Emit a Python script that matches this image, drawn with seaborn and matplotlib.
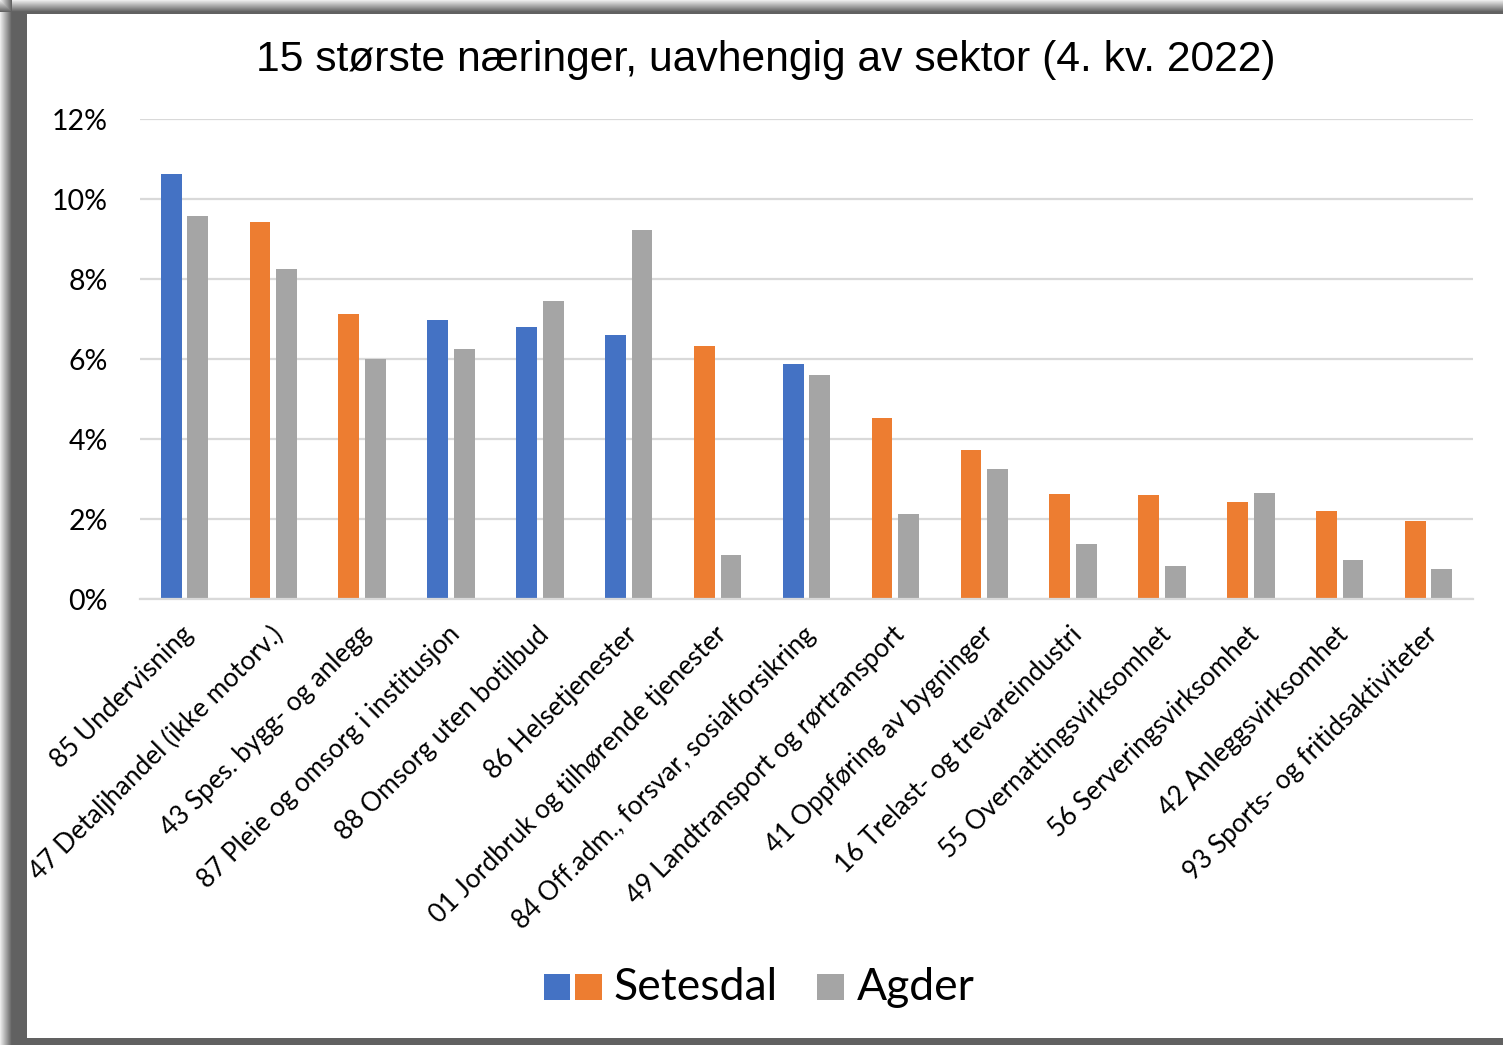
import numpy as np
import pandas as pd
import matplotlib
matplotlib.use("Agg")
import matplotlib.pyplot as plt
import matplotlib.transforms as mtransforms
import seaborn as sns
from matplotlib.patches import Rectangle
from matplotlib.ticker import PercentFormatter

# Data

naeringer = [
    "85 Undervisning",
    "47 Detaljhandel (ikke motorv.)",
    "43 Spes. bygg- og anlegg",
    "87 Pleie og omsorg i institusjon",
    "88 Omsorg uten botilbud",
    "86 Helsetjenester",
    "01 Jordbruk og tilhørende tjenester",
    "84 Off.adm., forsvar, sosialforsikring",
    "49 Landtransport og rørtransport",
    "41 Oppføring av bygninger",
    "16 Trelast- og trevareindustri",
    "55 Overnattingsvirksomhet",
    "56 Serveringsvirksomhet",
    "42 Anleggsvirksomhet",
    "93 Sports- og fritidsaktiviteter",
]

setesdal = [10.63, 9.43, 7.13, 6.98, 6.80, 6.60, 6.33, 5.88,
            4.53, 3.73, 2.63, 2.60, 2.43, 2.20, 1.95]

agder = [9.58, 8.25, 6.00, 6.25, 7.45, 9.23, 1.10, 5.60,
         2.13, 3.25, 1.38, 0.83, 2.65, 0.98, 0.75]

# sector of the Setesdal bar: offentlig (blue) / privat (orange)
sektor = ["off", "priv", "priv", "off", "off", "off", "priv", "off",
          "priv", "priv", "priv", "priv", "priv", "priv", "priv"]

BLUE = "#4472C4"
ORANGE = "#ED7D31"
GRAY = "#A5A5A5"
GRID = "#D9D9D9"

df = pd.DataFrame({
    "naering": naeringer * 2,
    "andel": setesdal + agder,
    "region": ["Setesdal"] * len(naeringer) + ["Agder"] * len(naeringer),
})

# Figure

W, H = 1503, 1045
fig = plt.figure(figsize=(W / 100, H / 100), dpi=100)
fig.patch.set_facecolor("white")

# shadow frame
bg = fig.add_axes([0, 0, 1, 1], zorder=-10)
bg.set_xlim(0, W)
bg.set_ylim(H, 0)
bg.axis("off")
for i in range(12):
    shade = 0.92 - (0.92 - 0.39) * (i / 11)
    bg.add_patch(Rectangle((i, 0), 1, H, color=str(shade), lw=0))
    bg.add_patch(Rectangle((0, i), W, 1, color=str(shade), lw=0))
bg.add_patch(Rectangle((12, 12), 15, H, color="#616161", lw=0))
bg.add_patch(Rectangle((12, 12), W, 2, color="#616161", lw=0))
bg.add_patch(Rectangle((12, 1038), W, 8, color="#616161", lw=0))
bg.add_patch(Rectangle((27, 14), W - 27, 1024, color="white", lw=0))

left, right = 140, 1473
top, bottom = 119, 599
ax = fig.add_axes([left / W, 1 - bottom / H, (right - left) / W, (bottom - top) / H])

sns.barplot(
    data=df,
    x="naering",
    y="andel",
    hue="region",
    palette=[BLUE, GRAY],
    width=0.6,
    gap=0.22,
    saturation=1,
    legend=False,
    ax=ax,
)

for patch, s in zip(ax.containers[0], sektor):
    patch.set_facecolor(BLUE if s == "off" else ORANGE)

ax.set_ylim(0, 12)
ax.set_xlim(-0.5, len(naeringer) - 0.5)
ax.set_yticks(np.arange(0, 13, 2))
ax.yaxis.set_major_formatter(PercentFormatter(decimals=0))
ax.grid(axis="y", color=GRID, linewidth=1.6)
ax.set_axisbelow(True)
for side in ["top", "right", "left"]:
    ax.spines[side].set_visible(False)
ax.spines["bottom"].set_color(GRID)
ax.spines["bottom"].set_linewidth(1.6)
ax.tick_params(axis="both", length=0)
ax.tick_params(axis="y", labelsize=20.5, pad=23)
ax.set_xlabel("")
ax.set_ylabel("")
for lab in ax.get_yticklabels():
    lab.set_family("Lato")

ax.set_xticks(range(len(naeringer)))
ax.set_xticklabels(naeringer, rotation=45, ha="right", rotation_mode="anchor",
                   fontsize=18.8, family="Lato")
ax.tick_params(axis="x", pad=15)
shift = mtransforms.ScaledTranslation(-4 / 100, -2 / 100, fig.dpi_scale_trans)
for lab in ax.get_xticklabels():
    lab.set_transform(lab.get_transform() + shift)

# Title

fig.text(766 / W, 1 - 60 / H, "15 største næringer, uavhengig av sektor (4. kv. 2022)",
         ha="center", va="center", fontsize=30.7, family="Liberation Sans")

# Legend

lg = fig.add_axes([0, 0, 1, 1], zorder=5)
lg.set_xlim(0, W)
lg.set_ylim(H, 0)
lg.axis("off")
lg.add_patch(Rectangle((544, 974), 26, 26, color=BLUE, lw=0))
lg.add_patch(Rectangle((575, 974), 27, 26, color=ORANGE, lw=0))
lg.text(613, 987, "Setesdal", ha="left", va="center", fontsize=32, family="Lato")
lg.add_patch(Rectangle((817, 974), 27, 26, color=GRAY, lw=0))
lg.text(857, 987, "Agder", ha="left", va="center", fontsize=32, family="Lato")

fig.savefig("out.png", dpi=100)
